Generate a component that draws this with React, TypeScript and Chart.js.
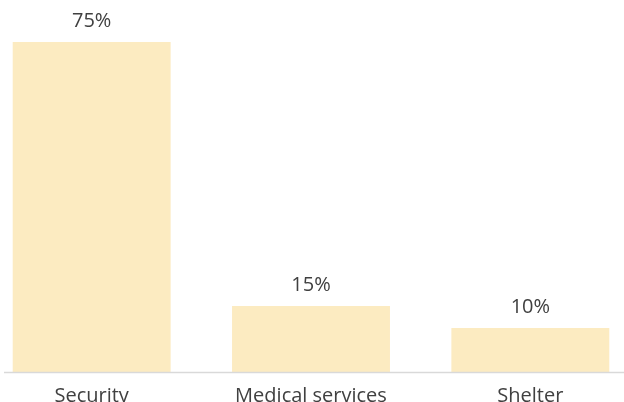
import React, { useEffect, useRef } from "react";
import { Chart, registerables } from "chart.js";

Chart.register(...registerables);

const categories = ["Security", "Medical services", "Shelter"];
const values = [75, 15, 10];
const valueLabels = ["75%", "15%", "10%"];

const barColor = "#FCEBC1";
const textColor = "#404040";
const fontFamily = "'Open Sans', sans-serif";

const labelPlugin = {
  id: "valueLabels",
  afterDatasetsDraw(chart: any) {
    const { ctx } = chart;
    const meta = chart.getDatasetMeta(0);
    ctx.save();
    ctx.font = `20px ${fontFamily}`;
    ctx.fillStyle = textColor;
    ctx.textAlign = "center";
    ctx.textBaseline = "middle";
    meta.data.forEach((bar: any, i: number) => {
      ctx.fillText(valueLabels[i], bar.x, bar.y - 21);
    });
    const area = chart.chartArea;
    ctx.strokeStyle = "#D9D9D9";
    ctx.lineWidth = 1.5;
    ctx.beginPath();
    ctx.moveTo(area.left + 22, area.bottom + 0.5);
    ctx.lineTo(area.right, area.bottom + 0.5);
    ctx.stroke();
    ctx.restore();
  },
};

export default function App() {
  const ref = useRef<HTMLCanvasElement>(null);
  useEffect(() => {
    if (!ref.current) return;
    const chart = new Chart(ref.current, {
      type: "bar",
      data: {
        labels: categories,
        datasets: [
          {
            data: values,
            backgroundColor: barColor,
            borderWidth: 0,
            barPercentage: 0.72,
            categoryPercentage: 1,
          },
        ],
      },
      options: {
        responsive: false,
        animation: false,
        layout: { padding: { top: 20, left: 0, right: 0, bottom: 0 } },
        plugins: { legend: { display: false }, tooltip: { enabled: false } },
        scales: {
          x: {
            grid: { display: false },
            border: { display: false },
            ticks: {
              color: textColor,
              font: { family: fontFamily, size: 20 },
              padding: 4,
              maxRotation: 0,
            },
            afterFit: (scale: any) => {
              scale.height = 31;
            },
          },
          y: {
            display: false,
            min: 0,
            max: 80,
          },
        },
      },
      plugins: [labelPlugin],
    });
    return () => chart.destroy();
  }, []);
  return (
    <div style={{ position: "fixed", left: -18, top: 0, width: 658, height: 403 }}>
      <canvas ref={ref} width={658} height={403} />
    </div>
  );
}
